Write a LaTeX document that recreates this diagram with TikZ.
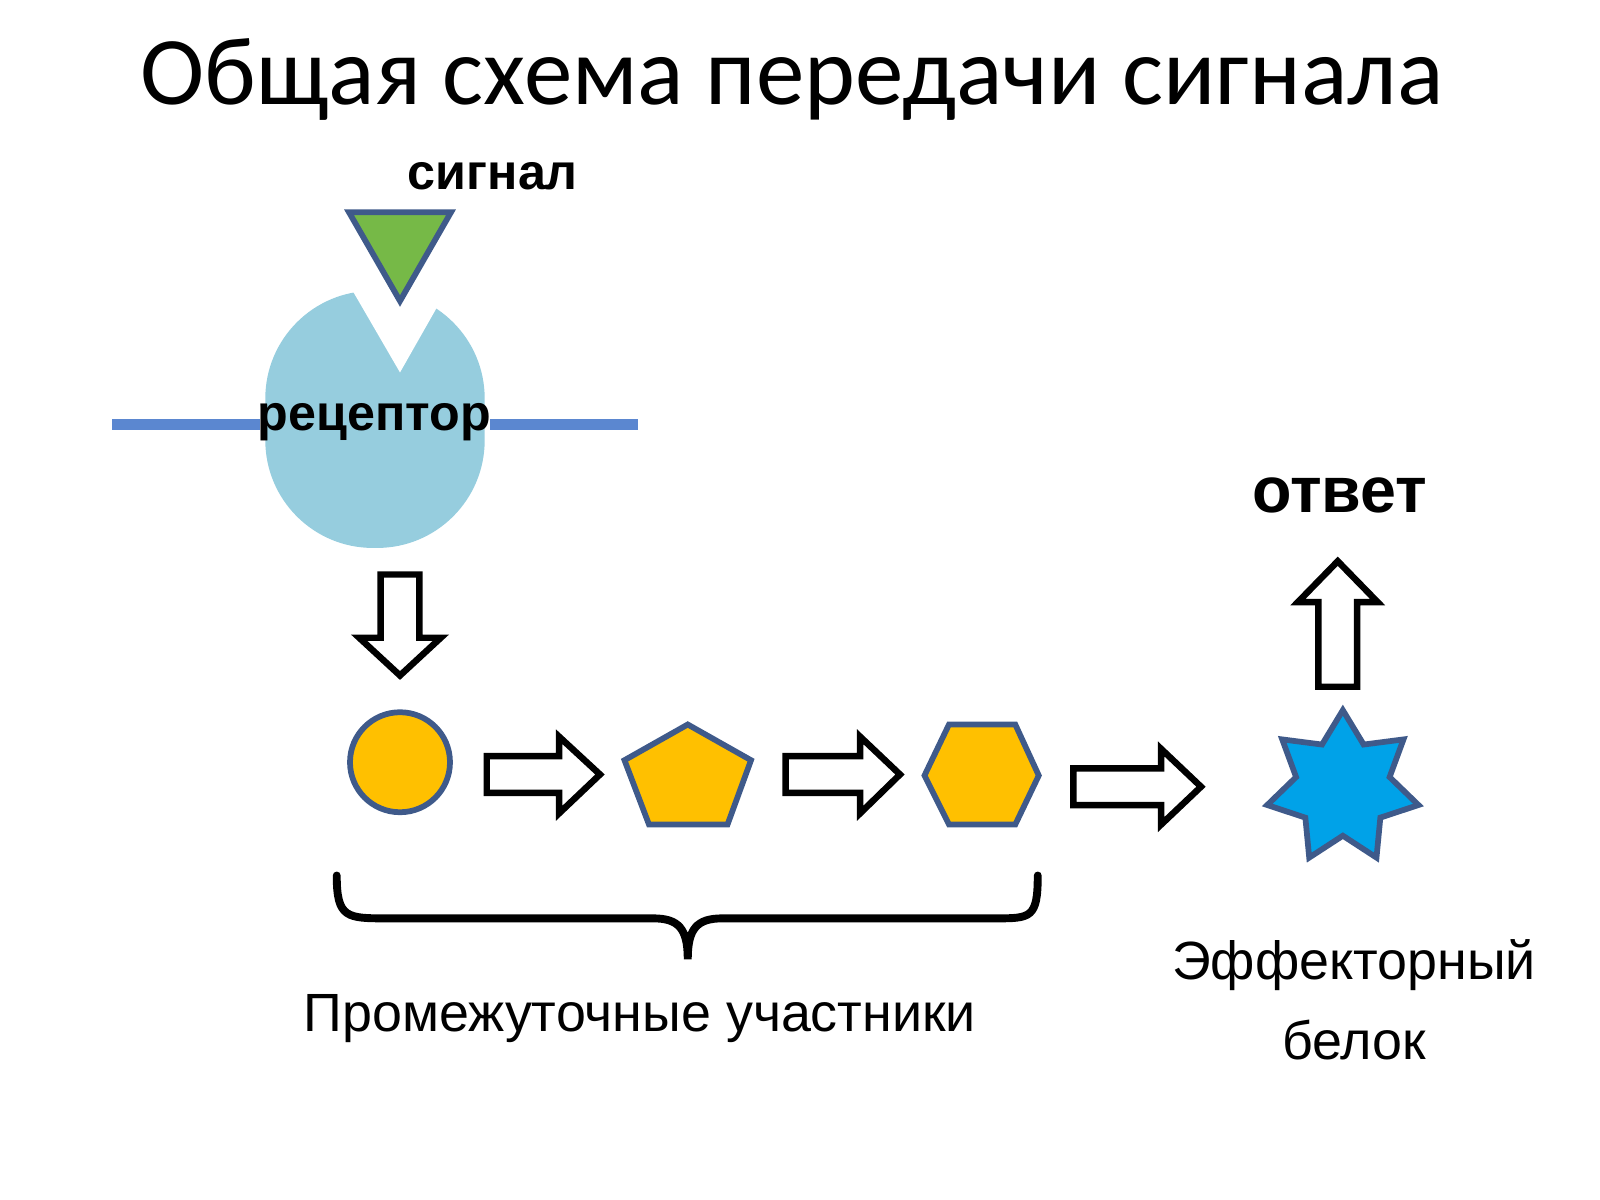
\documentclass[tikz,border=0pt]{standalone}
\usepackage{fontspec}
\setmainfont{Liberation Sans}
\newfontfamily\titlefont{Carlito}
\definecolor{memb}{RGB}{91,135,208}
\definecolor{recc}{RGB}{150,205,222}
\definecolor{grn}{RGB}{118,185,71}
\definecolor{yelc}{RGB}{255,192,0}
\definecolor{starc}{RGB}{0,162,232}
\definecolor{edge}{RGB}{63,90,138}
\begin{document}
\begin{tikzpicture}[x=0.01cm,y=-0.01cm,
  shp/.style={draw=edge,line width=1.6pt},
  yel/.style={shp,fill=yelc},
  blk/.style={draw=black,line width=1.8pt,fill=white,line join=miter},
  lbl/.style={font=\fontsize{15}{18}\selectfont},
  blbl/.style={font=\bfseries\fontsize{14}{17}\selectfont}]
\useasboundingbox (0,0) rectangle (1568,1176);
\node[font=\titlefont\fontsize{27}{32}\selectfont] (title) at (776,78) {Общая схема передачи сигнала};
\node[blbl] (sig) at (483,173) {сигнал};
\draw[line width=3pt,draw=memb] (110,416) -- (255,416) (480,416) -- (625,416);
\fill[recc,rounded corners=30] (260,285) rectangle (475,537);
\fill[white] (345,284) -- (438,284) -- (392,365) -- cycle;
\node[blbl] (rec) at (367,414) {рецептор};
\draw[shp,fill=grn] (342,208) -- (442,208) -- (392,295) -- cycle;
\draw[blk] (373,563) -- (411,563) -- (411,625) -- (432,625) -- (392,662) -- (352,625) -- (373,625) -- cycle;
\draw[yel] (392,747) circle[radius=49];
\draw[blk] (477,741) -- (548,741) -- (548,722) -- (588,759) -- (548,797) -- (548,777) -- (477,777) -- cycle;
\draw[yel] (674,710) -- (736,745) -- (713,808) -- (636,808) -- (612,745) -- cycle;
\draw[blk] (770,741) -- (843,741) -- (843,722) -- (882,759) -- (843,797) -- (843,777) -- (770,777) -- cycle;
\draw[yel] (930,710) -- (995,710) -- (1018,760) -- (995,808) -- (930,808) -- (906,760) -- cycle;
\draw[blk] (1052,753) -- (1138,753) -- (1138,734) -- (1177,771) -- (1138,808) -- (1138,789) -- (1052,789) -- cycle;
\begin{scope}[shift={(1316,772)}]
\draw[shp,fill=starc] (-90:76) -- (-64.29:47) -- (-38.57:76) -- (-12.86:47) -- (12.86:76) -- (38.57:47) -- (64.29:76) -- (90:47) -- (115.71:76) -- (141.43:47) -- (167.14:76) -- (192.86:47) -- (218.57:76) -- (244.29:47) -- cycle;
\end{scope}
\draw[blk] (1292,673) -- (1330,673) -- (1330,590) -- (1350,590) -- (1311,550) -- (1272,590) -- (1292,590) -- cycle;
\node[font=\bfseries\fontsize{18}{21}\selectfont] (resp) at (1313,486) {ответ};
\draw[line width=2.2pt,line cap=round] (330,858) .. controls (330,900) and (340,900) .. (380,900) -- (640,900) .. controls (665,900) and (674,910) .. (674,940)
  .. controls (674,910) and (683,900) .. (708,900) -- (975,900) .. controls (1010,900) and (1017,900) .. (1017,858);
\node[lbl] (inter) at (627,998) {Промежуточные участники};
\node[lbl,align=center] (eff) at (1327,980) {Эффекторный\\[0.15cm]белок};
\end{tikzpicture}
\end{document}
